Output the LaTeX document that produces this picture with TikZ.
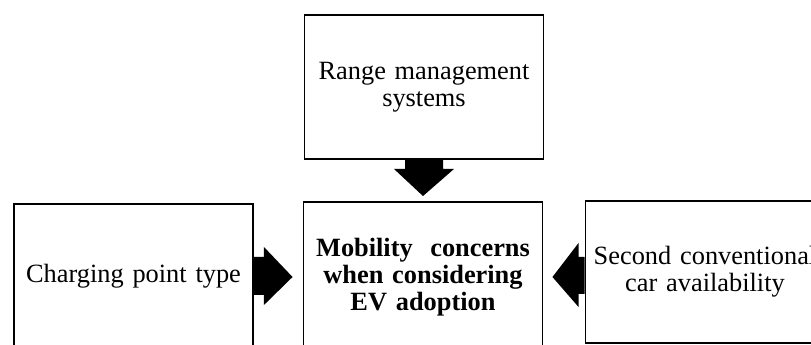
\documentclass[tikz,border=0pt]{standalone}
\usepackage{fontspec}
\setmainfont{Liberation Serif}
\usepackage{tikz}
\usetikzlibrary{calc, positioning}

\tikzset{
  factor/.style={draw, line width=1.1pt, minimum width=4.78cm, minimum height=2.88cm,
    text width=4.5cm, align=center, inner sep=0pt, font=\fontsize{15}{15.5}\selectfont},
  fatarrow/.style={fill=black, draw=none}
}

\begin{document}
\begin{tikzpicture}
        \useasboundingbox (0,0) rectangle (16.22,6.9);
        \clip (0,0) rectangle (16.22,6.9);

        % Các ô
        \node[factor] (rng) at (8.48,5.16) {Range management\\systems};
        \node[factor, minimum height=3cm, font=\fontsize{15}{15.5}\selectfont\bfseries] (mob) at (8.46,1.36) {Mobility\ \ concerns\\when considering\\EV adoption};
        \node[factor] (chg) at (2.67,1.38) {Charging point type};
        \node[factor, minimum height=2.84cm] (sec) at (14.1,1.46) {Second conventional\\car availability};

        % Mũi tên từ trên xuống
        \fill[fatarrow] ($(rng.south)+(-0.38,0)$) -- ++(0,-0.18) -- ++(-0.22,0)
            -- ($(mob.north)+(0,0.1)$) -- ($(rng.south)+(0.6,-0.18)$)
            -- ++(-0.22,0) -- ++(0,0.18) -- cycle;

        % Mũi tên từ trái
        \fill[fatarrow] ($(chg.east)+(0,0.38)$) -- ++(0.2,0) -- ++(0,0.2)
            -- ($(mob.west)+(-0.2,0)$) -- ($(chg.east)+(0.2,-0.58)$)
            -- ++(0,0.2) -- ++(-0.2,0) -- cycle;

        % Mũi tên từ phải
        \fill[fatarrow] ($(sec.west)+(0,0.3)$) -- ++(-0.12,0) -- ++(0,0.28)
            -- ($(mob.east)+(0.18,0)$) -- ($(sec.west)+(-0.12,-0.7)$)
            -- ++(0,0.26) -- ++(0.12,0) -- cycle;
\end{tikzpicture}
\end{document}
